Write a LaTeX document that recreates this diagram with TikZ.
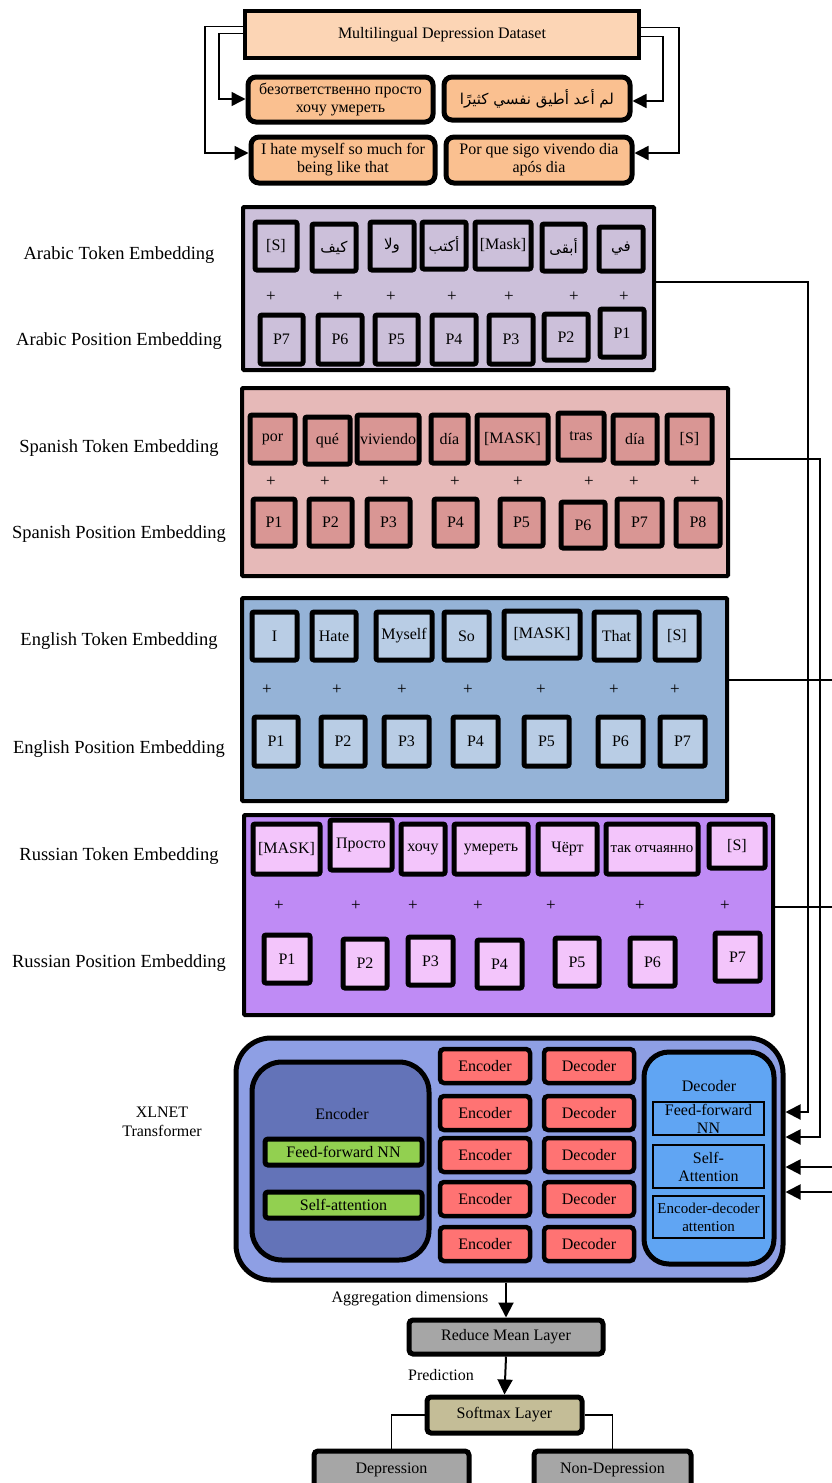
\documentclass[tikz,border=0pt]{standalone}
\usepackage{fontspec}
\setmainfont{Liberation Serif}
\newfontfamily\arabicfont[Script=Arabic]{DejaVu Sans}
\TeXXeTstate=1
\usetikzlibrary{arrows.meta,calc}
\definecolor{dsfill}{HTML}{FCD5B5}
\definecolor{langfill}{HTML}{FAC090}
\definecolor{arbg}{HTML}{CCC0DA}
\definecolor{spbg}{HTML}{E6B9B8}
\definecolor{sptok}{HTML}{D99694}
\definecolor{enbg}{HTML}{95B3D7}
\definecolor{entok}{HTML}{B9CDE5}
\definecolor{rubg}{HTML}{BF8BF5}
\definecolor{rutok}{HTML}{F3C5FB}
\definecolor{xlbg}{HTML}{8E9FE4}
\definecolor{encbg}{HTML}{6373B8}
\definecolor{green1}{HTML}{92D050}
\definecolor{red1}{HTML}{FF7373}
\definecolor{decbg}{HTML}{60A5F3}
\definecolor{gray1}{HTML}{A6A6A6}
\definecolor{khaki1}{HTML}{C4BD97}
\newcommand\bx[7]{\node[#1, minimum width={(#5)-(#3)-4}, minimum height={(#6)-(#4)-4}] (#2) at ({((#3)+(#5))/2},{((#4)+(#6))/2}) {#7};}
\newcommand\ar[1]{{\arabicfont\fontsize{15}{17}\selectfont\beginR #1\endR}}
\begin{document}
\begin{tikzpicture}[x=1pt,y=-1pt,
  base/.style={font=\fontsize{16}{18}\selectfont, inner sep=1pt, text=black},
  ml/.style={align=center},
  tok/.style={base, draw, line width=5pt, rounded corners=2pt},
  sect/.style={draw, line width=4pt, rounded corners=1pt},
  lang/.style={base, ml, draw, line width=5pt, rounded corners=8pt, fill=langfill},
  big/.style={base, draw, line width=5pt},
  thin/.style={base, ml, draw, line width=1.2pt, fill=decbg},
  lbl/.style={font=\fontsize{18.5}{20}\selectfont, inner sep=0pt},
  plus/.style={font=\fontsize{17}{18}\selectfont, inner sep=0pt},
  txt/.style={base},
  arr/.style={-{Triangle[length=14pt,width=14pt]}, line width=1.5pt},
  arrb/.style={-{Triangle[length=15pt,width=15pt]}, line width=2pt},
  ln/.style={line width=1.5pt}]
\useasboundingbox (0,0) rectangle (831,1483);

% ---------- dataset ----------
\bx{big,line width=4.5pt,fill=dsfill}{ds}{243}{9}{641}{60}{Multilingual Depression Dataset}
\bx{lang}{ruS}{246}{75}{435}{124}{безответственно просто\\хочу умереть}
\bx{lang}{arS}{442}{75}{632}{122}{\ar{لم أعد أطيق نفسي كثيرًا}}
\bx{lang}{enS}{249}{135}{437}{185}{I hate myself so much for\\being like that}
\bx{lang}{spS}{444}{135}{634}{185}{Por que sigo vivendo dia\\após dia}
\draw[arr] ($(ds.west)+(0,-8)$) -| (205,153) -- ($(enS.west)+(0,-7)$);
\draw[arr] ($(ds.west)+(0,-1)$) -| (219,99) -- ($(ruS.west)+(0,-0.5)$);
\draw[arr] ($(ds.east)+(0,-7)$) -| (679,153) -- ($(spS.east)+(0,-7)$);
\draw[arr] ($(ds.east)+(0,2)$) -| (663,101) -- ($(arS.east)+(0,2.5)$);

% ---------- Arabic ----------
\bx{sect,fill=arbg}{arB}{241}{205}{656}{372}{}
\node[lbl] (arTL) at (119,255) {Arabic Token Embedding};
\node[lbl] (arPL) at (119,341) {Arabic Position Embedding};
\bx{tok,fill=arbg}{arT1}{253}{220}{299}{272}{[S]}
\bx{tok,fill=arbg}{arT2}{310}{222}{358}{273}{\ar{كيف}}
\bx{tok,fill=arbg}{arT3}{368}{220}{416}{272}{\ar{ولا}}
\bx{tok,fill=arbg}{arT4}{420}{220}{468}{271}{\ar{أكتب}}
\bx{tok,fill=arbg}{arT5}{473}{220}{533}{271}{[Mask]}
\bx{tok,fill=arbg}{arT6}{540}{222}{587}{273}{\ar{أبقى}}
\bx{tok,fill=arbg}{arT7}{597}{225}{645}{273}{\ar{في}}
\foreach \x [count=\i] in {271,338,391,452,509,574,624} \node[plus] (arPl\i) at (\x,297) {+};
\bx{tok,fill=arbg}{arP7}{258}{313}{305}{366}{P7}
\bx{tok,fill=arbg}{arP6}{316}{313}{364}{366}{P6}
\bx{tok,fill=arbg}{arP5}{373}{313}{420}{366}{P5}
\bx{tok,fill=arbg}{arP4}{430}{313}{478}{366}{P4}
\bx{tok,fill=arbg}{arP3}{487}{313}{535}{366}{P3}
\bx{tok,fill=arbg}{arP2}{542}{312}{590}{362}{P2}
\bx{tok,fill=arbg}{arP1}{598}{307}{646}{359}{P1}

% ---------- Spanish ----------
\bx{sect,fill=spbg}{spB}{240}{386}{730}{578}{}
\node[lbl] (spTL) at (119,448) {Spanish Token Embedding};
\node[lbl] (spPL) at (119,534) {Spanish Position Embedding};
\bx{tok,fill=sptok}{spT1}{248}{413}{297}{465}{por}
\bx{tok,fill=sptok}{spT2}{303}{415}{352}{466}{qué}
\bx{tok,fill=sptok}{spT3}{355}{413}{421}{465}{viviendo}
\bx{tok,fill=sptok}{spT4}{429}{413}{470}{465}{día}
\bx{tok,fill=sptok}{spT5}{475}{413}{550}{465}{[MASK]}
\bx{tok,fill=sptok}{spT6}{556}{411}{606}{462}{tras}
\bx{tok,fill=sptok}{spT7}{611}{413}{659}{465}{día}
\bx{tok,fill=sptok}{spT8}{665}{413}{714}{465}{[S]}
\foreach \x [count=\i] in {271,325,384,455,518,589,634,695} \node[plus] (spPl\i) at (\x,482) {+};
\bx{tok,fill=sptok}{spP1}{251}{497}{297}{548}{P1}
\bx{tok,fill=sptok}{spP2}{307}{497}{354}{548}{P2}
\bx{tok,fill=sptok}{spP3}{365}{497}{412}{548}{P3}
\bx{tok,fill=sptok}{spP4}{432}{497}{479}{548}{P4}
\bx{tok,fill=sptok}{spP5}{498}{497}{545}{548}{P5}
\bx{tok,fill=sptok}{spP6}{559}{500}{607}{550}{P6}
\bx{tok,fill=sptok}{spP7}{615}{497}{664}{548}{P7}
\bx{tok,fill=sptok}{spP8}{674}{497}{722}{548}{P8}

% ---------- English ----------
\bx{sect,fill=enbg}{enB}{240}{596}{729}{803}{}
\node[lbl] (enTL) at (119,641) {English Token Embedding};
\node[lbl] (enPL) at (119,749) {English Position Embedding};
\bx{tok,fill=entok}{enT1}{250}{610}{299}{662}{I}
\bx{tok,fill=entok}{enT2}{310}{610}{358}{662}{Hate}
\bx{tok,fill=entok}{enT3}{374}{610}{434}{662}{Myself}
\bx{tok,fill=entok}{enT4}{442}{610}{491}{662}{So}
\bx{tok,fill=entok}{enT5}{502}{609}{582}{660}{[MASK]}
\bx{tok,fill=entok}{enT6}{592}{610}{641}{662}{That}
\bx{tok,fill=entok}{enT7}{653}{610}{701}{662}{[S]}
\foreach \x [count=\i] in {267,337,402,468,541,614,675} \node[plus] (enPl\i) at (\x,690) {+};
\bx{tok,fill=entok}{enP1}{252}{715}{300}{768}{P1}
\bx{tok,fill=entok}{enP2}{319}{715}{367}{768}{P2}
\bx{tok,fill=entok}{enP3}{382}{715}{431}{768}{P3}
\bx{tok,fill=entok}{enP4}{451}{715}{500}{768}{P4}
\bx{tok,fill=entok}{enP5}{522}{715}{571}{768}{P5}
\bx{tok,fill=entok}{enP6}{596}{715}{645}{768}{P6}
\bx{tok,fill=entok}{enP7}{658}{715}{707}{768}{P7}

% ---------- Russian ----------
\bx{sect,fill=rubg}{ruB}{242}{813}{775}{1017}{}
\node[lbl] (ruTL) at (119,856) {Russian Token Embedding};
\node[lbl] (ruPL) at (119,963) {Russian Position Embedding};
\bx{tok,fill=rutok}{ruT1}{251}{822}{322}{876}{[MASK]}
\bx{tok,fill=rutok}{ruT2}{328}{818}{394}{872}{Просто}
\bx{tok,fill=rutok}{ruT3}{399}{822}{447}{876}{хочу}
\bx{tok,fill=rutok}{ruT4}{452}{822}{530}{876}{умереть}
\bx{tok,fill=rutok}{ruT5}{536}{822}{599}{876}{Чёрт}
\bx{tok,fill=rutok,font=\fontsize{15}{17}\selectfont}{ruT6}{604}{822}{700}{876}{так отчаянно}
\bx{tok,fill=rutok}{ruT7}{707}{822}{767}{870}{[S]}
\foreach \x [count=\i] in {279,356,413,478,551,640,725} \node[plus] (ruPl\i) at (\x,906) {+};
\bx{tok,fill=rutok}{ruP1}{262}{933}{312}{985}{P1}
\bx{tok,fill=rutok}{ruP2}{341}{937}{389}{990}{P2}
\bx{tok,fill=rutok}{ruP3}{406}{935}{455}{987}{P3}
\bx{tok,fill=rutok}{ruP4}{475}{938}{524}{990}{P4}
\bx{tok,fill=rutok}{ruP5}{553}{936}{601}{988}{P5}
\bx{tok,fill=rutok}{ruP6}{628}{936}{677}{988}{P6}
\bx{tok,fill=rutok}{ruP7}{713}{931}{762}{983}{P7}

% ---------- XLNET ----------
\bx{big,fill=xlbg,rounded corners=35pt}{xl}{234}{1036}{785}{1282}{}
\node[txt,ml,font=\fontsize{16}{19}\selectfont] (xlL) at (162,1122) {XLNET\\Transformer};
\bx{big,fill=encbg,rounded corners=30pt}{encB}{250}{1060}{431}{1262}{}
\node[txt] (encL) at (342,1114) {Encoder};
\bx{tok,fill=green1,rounded corners=3pt}{ffn}{263}{1137}{424}{1167}{Feed-forward NN}
\bx{tok,fill=green1,rounded corners=3pt}{satt}{263}{1190}{424}{1220}{Self-attention}
\foreach \ya/\yb [count=\i] in {1047/1085,1094/1132,1136/1174,1180/1218,1225/1263}{
  \bx{tok,line width=4.5pt,fill=red1,rounded corners=4pt}{enc\i}{438}{\ya}{532}{\yb}{Encoder}
  \bx{tok,line width=4.5pt,fill=red1,rounded corners=4pt}{dec\i}{542}{\ya}{636}{\yb}{Decoder}
}
\bx{big,fill=decbg,rounded corners=25pt}{decB}{642}{1050}{776}{1266}{}
\node[txt] (decL) at (709,1086) {Decoder};
\bx{thin}{dFF}{651}{1100}{766}{1137}{Feed-forward\\NN}
\bx{thin}{dSA}{651}{1143}{766}{1190}{Self-\\Attention}
\bx{thin,font=\fontsize{15}{18}\selectfont}{dED}{651}{1194}{766}{1240}{Encoder-decoder\\attention}

% ---------- right connectors ----------
\draw[arrb] ($(arB.east)+(0,-6.5)$) -| (808,1112) -- ($(xl.east)+(0,-47)$);
\draw[arrb] ($(spB.east)+(0,-23)$) -| (820,1137) -- ($(xl.east)+(0,-22)$);
\draw[arrb] ($(enB.east)+(0,-19.5)$) -| (838,1167) -- ($(xl.east)+(0,8)$);
\draw[arrb] ($(ruB.east)+(0,-8)$) -| (844,1192) -- ($(xl.east)+(0,33)$);

% ---------- output ----------
\bx{big,fill=gray1,rounded corners=4pt}{rm}{407}{1318}{605}{1356}{Reduce Mean Layer}
\bx{big,fill=khaki1,rounded corners=4pt}{sm}{425}{1395}{584}{1435}{Softmax Layer}
\bx{big,fill=gray1,rounded corners=4pt}{dep}{312}{1449}{471}{1490}{Depression}
\bx{big,fill=gray1,rounded corners=4pt}{ndep}{532}{1449}{693}{1490}{Non-Depression}
\node[txt] (aggL) at (410,1299) {Aggregation dimensions};
\node[txt] (predL) at (441,1375) {Prediction};
\draw[arrb] (rm.north |- xl.south) -- (rm.north);
\draw[arrb] (rm.south) -- (sm.north);
\draw[ln] (sm.west) -| (dep.north);
\draw[ln] (sm.east) -| (ndep.north);
\end{tikzpicture}
\end{document}
